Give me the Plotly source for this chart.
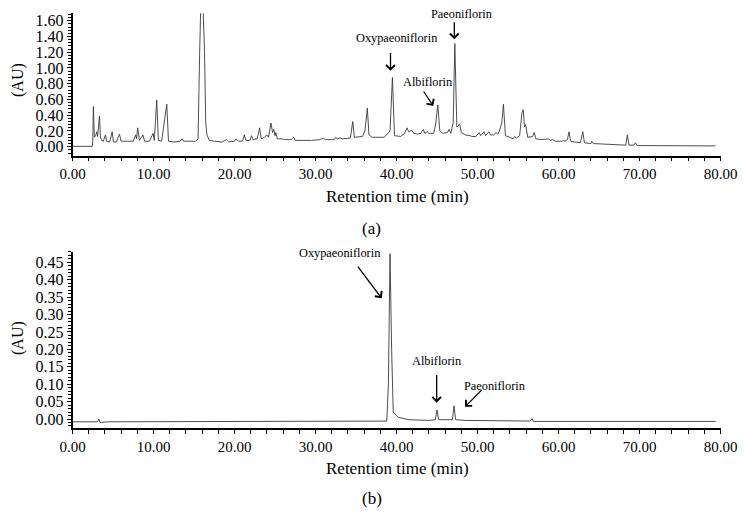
import plotly.graph_objects as go

# ---------------- data ----------------
# (a) chromatogram of the extract: retention time (min) and absorbance (AU)
time_a = [0, 2.45, 2.5, 2.58, 2.7, 2.85, 3.0, 3.1, 3.33, 3.45, 3.6, 3.8, 4.07, 4.2, 4.6, 4.9, 5.05,
          5.4, 5.8, 6.0, 6.5, 7.0, 7.5, 7.8, 7.9, 8.05, 8.25, 8.7, 8.9, 9.5, 9.96, 10.1, 10.4,
          10.6, 11.0, 11.64, 11.85, 12.5, 13.3, 13.5, 13.7, 15.2, 15.5, 15.7, 15.95, 16.3, 16.45,
          16.6, 16.9, 17.5, 18.5, 19.0, 19.3, 20.0, 20.2, 20.5, 21.0, 21.2, 21.4, 21.9, 22.1,
          22.3, 22.8, 23.1, 23.3, 23.7, 24.0, 24.2, 24.5, 24.7, 24.85, 25.0, 25.1, 25.3, 25.9,
          26.2, 27.0, 27.3, 27.5, 28.5, 29.5, 30.5, 31.0, 31.2, 32.3, 32.5, 32.7, 33.1, 33.3,
          34.3, 34.6, 34.8, 35.8, 36.1, 36.4, 36.6, 37.0, 38.5, 39.2, 39.5, 39.75, 40.5, 41.0,
          41.3, 41.5, 41.9, 42.1, 42.6, 43.0, 43.3, 43.5, 43.8, 44.0, 44.6, 44.85, 45.1, 45.35,
          45.7, 46.3, 46.5, 46.7, 47.0, 47.2, 47.45, 47.8, 48.0, 48.5, 49.1, 49.3, 49.8, 50.2,
          50.4, 50.8, 51.0, 51.4, 51.6, 52.0, 52.3, 52.5, 52.7, 53.0, 53.2, 53.45, 54.0, 54.4,
          54.6, 54.8, 55.2, 55.5, 55.65, 55.8, 55.95, 56.2, 56.8, 57.0, 57.2, 58.0, 58.8, 59.0,
          59.3, 59.6, 60.4, 60.6, 60.8, 61.1, 61.3, 61.5, 62.0, 62.7, 63.0, 63.2, 64.0, 64.1,
          64.3, 66.0, 67.5, 68.3, 68.5, 68.7, 69.3, 69.5, 69.7, 72.0, 75.0, 77.0, 79.4]
abs_a = [0.005, 0.005, 0.08, 0.51, 0.12, 0.14, 0.19, 0.13, 0.39, 0.12, 0.08, 0.07, 0.15, 0.07, 0.06, 0.19, 0.06,
         0.06, 0.16, 0.07, 0.07, 0.07, 0.07, 0.15, 0.10, 0.24, 0.08, 0.15, 0.07, 0.07, 0.17, 0.08, 0.59,
         0.08, 0.07, 0.54, 0.07, 0.06, 0.07, 0.10, 0.07, 0.07, 0.10, 1.20, 2.30, 1.20, 0.30,
         0.15, 0.08, 0.07, 0.06, 0.09, 0.06, 0.07, 0.10, 0.07, 0.07, 0.15, 0.08, 0.08, 0.14,
         0.09, 0.10, 0.24, 0.10, 0.12, 0.15, 0.12, 0.30, 0.18, 0.22, 0.14, 0.18, 0.10, 0.10,
         0.09, 0.09, 0.12, 0.08, 0.08, 0.08, 0.09, 0.11, 0.09, 0.09, 0.12, 0.10, 0.11, 0.10,
         0.11, 0.32, 0.12, 0.13, 0.20, 0.49, 0.15, 0.12, 0.12, 0.20, 0.88, 0.14, 0.13, 0.17,
         0.24, 0.19, 0.21, 0.17, 0.16, 0.17, 0.22, 0.17, 0.19, 0.17, 0.17, 0.30, 0.53, 0.20,
         0.17, 0.18, 0.22, 0.17, 0.30, 1.31, 0.25, 0.29, 0.18, 0.15, 0.14, 0.13, 0.13, 0.18,
         0.14, 0.19, 0.14, 0.19, 0.15, 0.15, 0.18, 0.16, 0.20, 0.30, 0.54, 0.14, 0.12, 0.10,
         0.13, 0.11, 0.14, 0.44, 0.47, 0.25, 0.28, 0.12, 0.13, 0.18, 0.10, 0.09, 0.10, 0.08,
         0.09, 0.07, 0.07, 0.08, 0.07, 0.09, 0.19, 0.07, 0.06, 0.05, 0.19, 0.05, 0.04, 0.07,
         0.04, 0.03, 0.02, 0.02, 0.15, 0.02, 0.02, 0.05, 0.015, 0.015, 0.012, 0.01, 0.01]

# (b) chromatogram of the reference standards
time_b = [0, 3.1, 3.25, 3.4, 4.5, 20.0, 38.8, 39.0, 39.2, 39.4, 39.6, 40.2, 41.5, 44.0, 44.8, 45.0,
          45.2, 46.9, 47.1, 47.3, 48.5, 56.5, 56.75, 56.9, 79.4]
abs_b = [-0.008, -0.008, 0.0, -0.01, -0.008, -0.007, -0.006, 0.10, 0.475, 0.20, 0.02, 0.005, -0.002,
         -0.004, -0.002, 0.026, -0.002, -0.002, 0.038, -0.002, -0.004, -0.006, 0.001, -0.007, -0.007]

# peak labels: name, label position (t, y), arrow tail (t, y), arrow head (t, y)
labels_a = ["Oxypaeoniflorin", "Albiflorin", "Paeoniflorin"]
label_pos_a = [(40.02, 1.384), (43.8, 0.825), (48.05, 1.685)]
arrow_tail_a = [(39.26, 1.21), (43.23, 0.72), (47.14, 1.60)]
arrow_head_a = [(39.26, 0.965), (44.54, 0.517), (47.14, 1.364)]

labels_b = ["Oxypaeoniflorin", "Albiflorin", "Paeoniflorin"]
label_pos_b = [(33.02, 0.477), (44.96, 0.167), (52.14, 0.096)]
arrow_tail_b = [(35.09, 0.442), (44.96, 0.131), (50.72, 0.088)]
arrow_head_b = [(38.17, 0.347), (44.96, 0.047), (48.46, 0.035)]

x_title = "Retention time (min)"
y_title = "(AU)"
panel_tags = ["(a)", "(b)"]

# ---------------- figure ----------------
# the page body has an 8px margin, so the figure is drawn 8px in from the corner
OFF = 8
W, H = 747 - OFF, 531 - OFF
SERIF = "Liberation Serif"
LINE = "#3a3a3a"


def px(xr):
    return (xr - OFF) / W


def py(yr):
    return 1 - (yr - OFF) / H


fig = go.Figure()
fig.add_trace(go.Scatter(x=time_a, y=abs_a, mode="lines", line=dict(color=LINE, width=0.9),
                         xaxis="x", yaxis="y", showlegend=False, hoverinfo="skip"))
fig.add_trace(go.Scatter(x=time_b, y=abs_b, mode="lines", line=dict(color=LINE, width=0.9),
                         xaxis="x2", yaxis="y2", showlegend=False, hoverinfo="skip"))

x_dom = [px(72.5), px(720.5)]


def xaxis_cfg(anchor):
    return dict(domain=x_dom, range=[0, 80], anchor=anchor, tick0=0, dtick=10, tickformat=".2f",
                ticks="outside", ticklen=4, tickwidth=1, tickcolor="black", automargin=False,
                minor=dict(dtick=2, ticks="outside", ticklen=3.5, tickwidth=1, tickcolor="black"),
                showline=True, linecolor="black", linewidth=1.5, showgrid=False, zeroline=False,
                tickfont=dict(family=SERIF, size=15, color="black"))


def yaxis_cfg(anchor, dom, rng, dtick, mdtick):
    return dict(domain=dom, range=rng, anchor=anchor, tick0=0, dtick=dtick, tickformat=".2f",
                ticks="outside", ticklen=4, tickwidth=1, tickcolor="black", automargin=False,
                minor=dict(dtick=mdtick, ticks="outside", ticklen=2.5, tickwidth=1, tickcolor="black"),
                showline=True, linecolor="black", linewidth=1.5, showgrid=False, zeroline=False,
                tickfont=dict(family=SERIF, size=16, color="black"))


fig.update_layout(
    width=W, height=H,
    margin=dict(l=0, r=0, t=0, b=0),
    paper_bgcolor="white", plot_bgcolor="white",
    font=dict(family=SERIF, color="black"),
    xaxis=xaxis_cfg("y"),
    yaxis=yaxis_cfg("x", [py(155.7), py(13.3)], [-0.114, 1.694], 0.2, 0.04),
    xaxis2=xaxis_cfg("y2"),
    yaxis2=yaxis_cfg("x2", [py(428.3), py(251.7)], [-0.0267, 0.4806], 0.05, 0.01),
)

ann = []
for (names, pos, tails, heads, xr, yr) in [
        (labels_a, label_pos_a, arrow_tail_a, arrow_head_a, "x", "y"),
        (labels_b, label_pos_b, arrow_tail_b, arrow_head_b, "x2", "y2")]:
    for n, p, t, h in zip(names, pos, tails, heads):
        ann.append(dict(x=p[0], y=p[1], xref=xr, yref=yr, text=n, showarrow=False,
                        xanchor="center", yanchor="middle",
                        font=dict(family=SERIF, size=12.3, color="black")))
        ann.append(dict(x=h[0], y=h[1], xref=xr, yref=yr, ax=t[0], ay=t[1], axref=xr, ayref=yr,
                        text="", showarrow=True, arrowhead=4, arrowsize=1.3, arrowwidth=1.3,
                        arrowcolor="black"))

# axis titles and panel tags (paper coordinates)
for cy_title, cy_tag, cy_ytitle, tag in [(196.7, 228.0, 80.0, panel_tags[0]),
                                         (468.3, 498.3, 338.0, panel_tags[1])]:
    ann.append(dict(x=px(397.5), y=py(cy_title), xref="paper", yref="paper", text=x_title,
                    xanchor="center", yanchor="middle", showarrow=False,
                    font=dict(family=SERIF, size=17, color="black")))
    ann.append(dict(x=px(371.7), y=py(cy_tag), xref="paper", yref="paper", text=tag,
                    xanchor="center", yanchor="middle", showarrow=False,
                    font=dict(family=SERIF, size=17, color="black")))
    ann.append(dict(x=px(18), y=py(cy_ytitle), xref="paper", yref="paper", text=y_title,
                    xanchor="center", yanchor="middle", textangle=-90, showarrow=False,
                    font=dict(family=SERIF, size=16, color="black")))

fig.update_layout(annotations=ann)
fig.write_html("out.html")
